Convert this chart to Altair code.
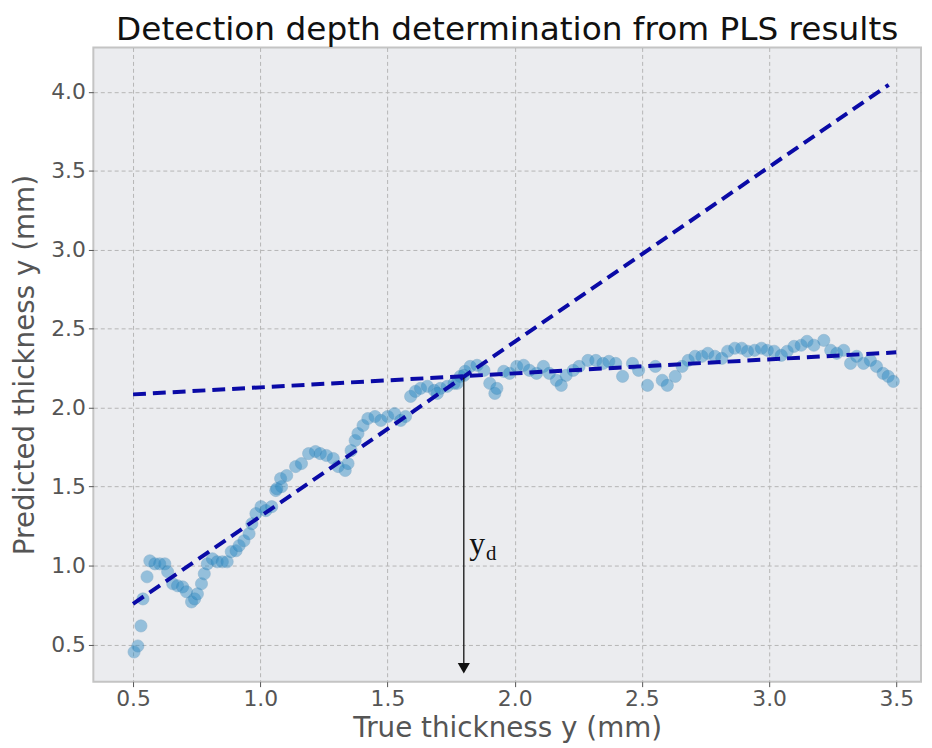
import altair as alt
import pandas as pd

# Scatter: true thickness vs predicted thickness (mm)
true_y = [
    0.504, 0.519, 0.531, 0.539, 0.555, 0.566, 0.586, 0.605, 0.625, 0.636,
    0.656, 0.675, 0.695, 0.710, 0.730, 0.742, 0.753, 0.769, 0.780, 0.792,
    0.812, 0.831, 0.851, 0.870, 0.886, 0.905, 0.917, 0.936, 0.956, 0.967,
    0.983, 1.003, 1.022, 1.045, 1.061, 1.084, 1.065, 1.080, 1.104, 1.139,
    1.162, 1.190, 1.217, 1.236, 1.260, 1.287, 1.306, 1.334, 1.345, 1.357,
    1.373, 1.384, 1.404, 1.423, 1.451, 1.474, 1.501, 1.528, 1.552, 1.571,
    1.591, 1.610, 1.630, 1.657, 1.684, 1.708, 1.735, 1.762, 1.786, 1.805,
    1.696, 1.774, 1.801, 1.825, 1.852, 1.879, 1.902, 1.922, 1.930, 1.957,
    1.980, 2.008, 2.035, 2.058, 2.086, 2.113, 2.136, 2.164, 2.183, 2.202,
    2.230, 2.253, 2.288, 2.319, 2.347, 2.370, 2.397, 2.424, 2.463, 2.487,
    2.522, 2.553, 2.580, 2.600, 2.631, 2.658, 2.682, 2.709, 2.736, 2.759,
    2.787, 2.814, 2.837, 2.865, 2.892, 2.915, 2.943, 2.970, 2.993, 3.020,
    3.048, 3.071, 3.098, 3.126, 3.149, 3.176, 3.215, 3.242, 3.266, 3.293,
    3.320, 3.344, 3.371, 3.398, 3.422, 3.448, 3.468, 3.488,
]
pred_y = [
    0.453, 0.491, 0.618, 0.789, 0.929, 1.030, 1.011, 1.011, 1.011, 0.961,
    0.885, 0.872, 0.865, 0.834, 0.770, 0.789, 0.821, 0.885, 0.948, 1.011,
    1.043, 1.024, 1.024, 1.024, 1.088, 1.094, 1.126, 1.157, 1.202, 1.265,
    1.329, 1.373, 1.348, 1.373, 1.475, 1.500, 1.487, 1.551, 1.570, 1.627,
    1.646, 1.709, 1.722, 1.709, 1.697, 1.678, 1.627, 1.602, 1.646, 1.728,
    1.792, 1.836, 1.887, 1.931, 1.944, 1.919, 1.944, 1.963, 1.919, 1.944,
    2.071, 2.103, 2.122, 2.135, 2.109, 2.122, 2.135, 2.154, 2.198, 2.230,
    2.090, 2.154, 2.204, 2.261, 2.268, 2.236, 2.154, 2.090, 2.122, 2.230,
    2.217, 2.261, 2.268, 2.236, 2.217, 2.261, 2.217, 2.173, 2.141, 2.204,
    2.236, 2.261, 2.299, 2.299, 2.280, 2.293, 2.280, 2.198, 2.280, 2.236,
    2.141, 2.261, 2.173, 2.141, 2.198, 2.261, 2.299, 2.325, 2.325, 2.344,
    2.325, 2.312, 2.357, 2.376, 2.376, 2.357, 2.363, 2.376, 2.363, 2.357,
    2.331, 2.357, 2.388, 2.395, 2.420, 2.395, 2.426, 2.363, 2.344, 2.363,
    2.280, 2.325, 2.280, 2.299, 2.261, 2.217, 2.198, 2.166,
]

# Two fitted lines (endpoints)
fit_group = ["rise", "rise", "plateau", "plateau"]
fit_x = [0.5, 3.47, 0.5, 3.5]
fit_y = [0.758, 4.044, 2.084, 2.35]

# Detection depth marker
depth_x = [1.8]
depth_top = [2.19]
depth_bottom = [0.37]
arrow_tip = [0.35]

x_ticks = [0.5, 1.0, 1.5, 2.0, 2.5, 3.0, 3.5]
y_ticks = [0.5, 1.0, 1.5, 2.0, 2.5, 3.0, 3.5, 4.0]

scatter_df = pd.DataFrame({"x": true_y, "y": pred_y})
fit_df = pd.DataFrame({"g": fit_group, "x": fit_x, "y": fit_y})
depth_df = pd.DataFrame({"x": depth_x, "y": depth_top, "y2": depth_bottom, "tip": arrow_tip})
label_y_df = pd.DataFrame({"x": [1.821], "y": [1.075], "t": ["y"]})
label_d_df = pd.DataFrame({"x": [1.887], "y": [1.037], "t": ["d"]})

x_scale = alt.Scale(domain=[0.344, 3.597], nice=False, zero=False)
y_scale = alt.Scale(domain=[0.265, 4.28], nice=False, zero=False)

x_axis = alt.Axis(values=x_ticks, format=".1f", title="True thickness y (mm)",
                  tickSize=5, labelPadding=2, titlePadding=5)
y_axis = alt.Axis(values=y_ticks, format=".1f", title="Predicted thickness y (mm)",
                  tickSize=5, labelPadding=3, titlePadding=11)


def X(field="x"):
    return alt.X(f"{field}:Q", scale=x_scale, axis=x_axis)


def Y(field="y"):
    return alt.Y(f"{field}:Q", scale=y_scale, axis=y_axis)


points = alt.Chart(scatter_df).mark_circle(
    size=150, color="#2c8ac3", opacity=0.45, stroke="#1f6fa8", strokeWidth=1, strokeOpacity=0.6
).encode(x=X(), y=Y())

lines = alt.Chart(fit_df).mark_line(
    color="#0a0aa6", strokeWidth=4, strokeDash=[13, 7]
).encode(x=X(), y=Y(), detail="g:N")

arrow_line = alt.Chart(depth_df).mark_rule(color="#111111", strokeWidth=1.3).encode(
    x=X(), y=Y(), y2="y2:Q"
)

arrow_head = alt.Chart(depth_df).mark_point(
    shape="triangle-down", filled=True, color="#111111", opacity=1, size=150
).encode(x=X(), y=Y("tip"))

label_y = alt.Chart(label_y_df).mark_text(
    font="Liberation Serif", fontSize=32, align="left", baseline="alphabetic", color="#111111"
).encode(x=X(), y=Y(), text="t:N")

label_d = alt.Chart(label_d_df).mark_text(
    font="Liberation Serif", fontSize=21, align="left", baseline="alphabetic", color="#111111"
).encode(x=X(), y=Y(), text="t:N")

chart = alt.layer(points, lines, arrow_line, arrow_head, label_y, label_d).properties(
    width=923,
    height=738,
    autosize=alt.AutoSizeParams(type="fit", contains="padding"),
    padding={"left": 4, "top": 3, "right": 3, "bottom": 1},
    title=alt.TitleParams(
        "Detection depth determination from PLS results",
        fontSize=33, font="DejaVu Sans", fontWeight="normal", color="#111111",
        anchor="middle", offset=1,
    ),
).configure_view(
    fill="#EBECEF", stroke="#C4C4C4", strokeWidth=2
).configure_axis(
    labelFont="DejaVu Sans", labelFontSize=22, labelColor="#555555",
    titleFont="DejaVu Sans", titleFontSize=28, titleColor="#555555", titleFontWeight="normal",
    tickColor="#555555", domain=False,
    grid=True, gridColor="#B5B5B5", gridDash=[4, 3], gridWidth=1,
)

chart.save("out.html", embed_options={"renderer": "svg", "actions": False})
